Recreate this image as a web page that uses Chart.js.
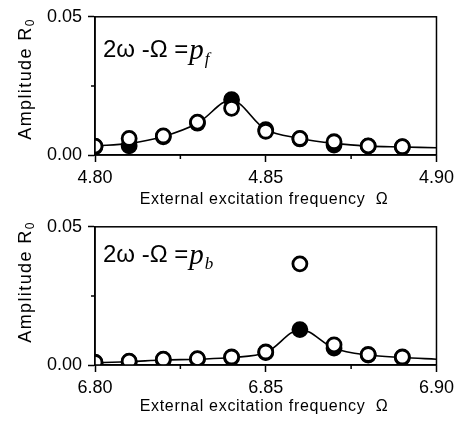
<!DOCTYPE html>
<html>
<head>
<meta charset="utf-8">
<script src="https://cdn.jsdelivr.net/npm/chart.js@4/dist/chart.umd.min.js"></script>
<style>
  html, body { margin: 0; padding: 0; background: #fff; }
  #wrap { position: relative; width: 459px; height: 423px; }
  canvas { position: absolute; left: 0; }
  #c1 { top: 0; }
  #c2 { top: 210px; }
</style>
</head>
<body>
<div id="wrap">
  <canvas id="c1" width="459" height="210"></canvas>
  <canvas id="c2" width="459" height="213"></canvas>
</div>
<script>
// ---- Upper panel: 2ω - Ω = p_f ----
const freqF = [4.80, 4.81, 4.82, 4.83, 4.84, 4.85, 4.86, 4.87, 4.88, 4.89];
const openF = [0.0032, 0.0060, 0.0069, 0.0119, 0.0169, 0.0086, 0.0060, 0.0048, 0.0033, 0.0030];
const filledF = [0.0030, 0.0033, 0.0066, 0.0115, 0.0200, 0.0092, 0.0058, 0.0036, 0.0032, 0.0029];
const curveFreqF = [4.80, 4.81, 4.82, 4.83, 4.84, 4.85, 4.86, 4.87, 4.88, 4.89, 4.90];
const curveF = [0.0033, 0.0042, 0.0067, 0.0115, 0.0198, 0.0092, 0.0060, 0.0042, 0.0032, 0.0029, 0.0026];
const xTicksF = [4.80, 4.85, 4.90];
const xMinorF = [4.825, 4.875];

// ---- Lower panel: 2ω - Ω = p_b ----
const freqB = [6.80, 6.81, 6.82, 6.83, 6.84, 6.85, 6.86, 6.87, 6.88, 6.89];
const openB = [0.0010, 0.0014, 0.0021, 0.0023, 0.0029, 0.0047, 0.0366, 0.0073, 0.0038, 0.0029];
const filledB = [0.0008, 0.0012, 0.0019, 0.0021, 0.0027, 0.0045, 0.0128, 0.0061, 0.0036, 0.0027];
const curveFreqB = [6.80, 6.81, 6.82, 6.83, 6.84, 6.85, 6.86, 6.87, 6.88, 6.89, 6.90];
const curveB = [0.0008, 0.0012, 0.0018, 0.0021, 0.0027, 0.0045, 0.0128, 0.0061, 0.0036, 0.0027, 0.0021];
const xTicksB = [6.80, 6.85, 6.90];
const xMinorB = [6.825, 6.875];

// ---- shared amplitude axis ----
const yTicks = [0.00, 0.05];
const yMinor = [0.025];

const xTitle = 'External excitation frequency  Ω';
const yTitleMain = 'Amplitude R';
const yTitleSub = '0';

const SANS = '"Liberation Sans", Arial, sans-serif';
const SERIF = '"Liberation Serif", "Times New Roman", serif';

const pts = (xs, ys) => xs.map((v, i) => ({ x: v, y: ys[i] }));

// frame, minor ticks, in-plot relation label and axis titles
const decor = {
  id: 'decor',
  afterDraw(chart, args, o) {
    const { ctx, chartArea: a, scales: { x, y } } = chart;
    ctx.save();
    ctx.strokeStyle = '#000';
    ctx.lineWidth = 1.5;
    ctx.strokeRect(a.left, a.top, a.right - a.left, a.bottom - a.top);

    ctx.beginPath();
    o.minorX.forEach(v => {
      const px = x.getPixelForValue(v);
      ctx.moveTo(px, a.bottom); ctx.lineTo(px, a.bottom + 4);
    });
    o.minorY.forEach(v => {
      const py = y.getPixelForValue(v);
      ctx.moveTo(a.left, py); ctx.lineTo(a.left - 4, py);
    });
    ctx.stroke();

    // relation label: 2ω -Ω = p_sub
    ctx.fillStyle = '#000';
    ctx.textBaseline = 'alphabetic';
    ctx.textAlign = 'left';
    let tx = a.left + 8;
    const ty = a.top + o.labelBase;
    ctx.font = '24px ' + SANS;
    const head = '2ω -Ω =';
    ctx.fillText(head, tx, ty);
    tx += ctx.measureText(head).width + 1;
    ctx.font = 'italic 29px ' + SERIF;
    ctx.fillText('p', tx, ty + 2);
    tx += ctx.measureText('p').width + 1;
    ctx.font = 'italic 17px ' + SERIF;
    ctx.fillText(o.sub, tx, ty + 7);

    // x-axis title
    ctx.font = '16px ' + SANS;
    if ('letterSpacing' in ctx) ctx.letterSpacing = '0.7px';
    ctx.textAlign = 'center';
    ctx.fillText(xTitle, o.xTitleX, o.xTitleBase);

    // y-axis title with subscript
    ctx.save();
    ctx.translate(o.yTitleX, o.yTitleY);
    ctx.rotate(-Math.PI / 2);
    ctx.textAlign = 'left';
    if ('letterSpacing' in ctx) ctx.letterSpacing = '1.4px';
    ctx.font = '18px ' + SANS;
    const wMain = ctx.measureText(yTitleMain).width;
    ctx.font = '12px ' + SANS;
    const wSub = ctx.measureText(yTitleSub).width;
    const start = -(wMain + wSub) / 2;
    ctx.font = '18px ' + SANS;
    ctx.fillText(yTitleMain, start, 6);
    ctx.font = '12px ' + SANS;
    ctx.fillText(yTitleSub, start + wMain, 9);
    ctx.restore();

    ctx.restore();
  }
};

function panel(canvasId, cfg) {
  const H = document.getElementById(canvasId).height;
  const ds = (data, fill, border) => ({
    type: 'scatter',
    data,
    showLine: false,
    pointRadius: 7,
    pointHoverRadius: 7,
    pointBorderWidth: 2.8,
    pointBackgroundColor: fill,
    pointBorderColor: border
  });

  return new Chart(document.getElementById(canvasId), {
    type: 'scatter',
    data: {
      datasets: [
        ds(pts(cfg.freq, cfg.open), '#fff', '#000'),
        ds(pts(cfg.freq, cfg.filled), '#000', '#000'),
        {
          type: 'line',
          data: pts(cfg.curveFreq, cfg.curve),
          borderColor: '#000',
          borderWidth: 1.6,
          pointRadius: 0,
          tension: 0.35,
          fill: false
        }
      ]
    },
    options: {
      responsive: false,
      animation: false,
      devicePixelRatio: 1,
      layout: { padding: { top: cfg.top, right: 19, left: 0, bottom: 0 } },
      plugins: {
        legend: { display: false },
        tooltip: { enabled: false },
        decor: {
          minorX: cfg.minorX,
          minorY: yMinor,
          sub: cfg.sub,
          labelBase: cfg.labelBase,
          xTitleX: 264,
          xTitleBase: cfg.xTitleBase,
          yTitleX: 25,
          yTitleY: cfg.yTitleY
        }
      },
      scales: {
        x: {
          type: 'linear',
          min: cfg.xTicks[0],
          max: cfg.xTicks[cfg.xTicks.length - 1],
          afterBuildTicks: s => { s.ticks = cfg.xTicks.map(v => ({ value: v })); },
          afterFit: s => { s.height = H - cfg.bottom; },
          ticks: {
            color: '#000',
            font: { family: SANS, size: 18 },
            padding: 5,
            maxRotation: 0,
            callback: v => Number(v).toFixed(2)
          },
          grid: {
            drawOnChartArea: false,
            drawTicks: true,
            tickLength: 7,
            tickColor: '#000',
            tickWidth: 1.5
          },
          border: { display: true, color: '#000', width: 1.5 }
        },
        y: {
          type: 'linear',
          min: yTicks[0],
          max: yTicks[yTicks.length - 1],
          afterBuildTicks: s => { s.ticks = yTicks.map(v => ({ value: v })); },
          afterFit: s => { s.width = 95; },
          ticks: {
            color: '#000',
            font: { family: SANS, size: 18 },
            padding: 6,
            callback: v => Number(v).toFixed(2)
          },
          grid: {
            drawOnChartArea: false,
            drawTicks: true,
            tickLength: 7,
            tickColor: '#000',
            tickWidth: 1.5
          },
          border: { display: true, color: '#000', width: 1.5 }
        }
      }
    },
    plugins: [decor]
  });
}

panel('c1', {
  freq: freqF, open: openF, filled: filledF,
  curveFreq: curveFreqF, curve: curveF,
  xTicks: xTicksF, minorX: xMinorF, sub: 'f',
  top: 15, bottom: 155, labelBase: 40, xTitleBase: 204, yTitleY: 79
});

panel('c2', {
  freq: freqB, open: openB, filled: filledB,
  curveFreq: curveFreqB, curve: curveB,
  xTicks: xTicksB, minorX: xMinorB, sub: 'b',
  top: 14, bottom: 155, labelBase: 35, xTitleBase: 201, yTitleY: 72
});
</script>
</body>
</html>
